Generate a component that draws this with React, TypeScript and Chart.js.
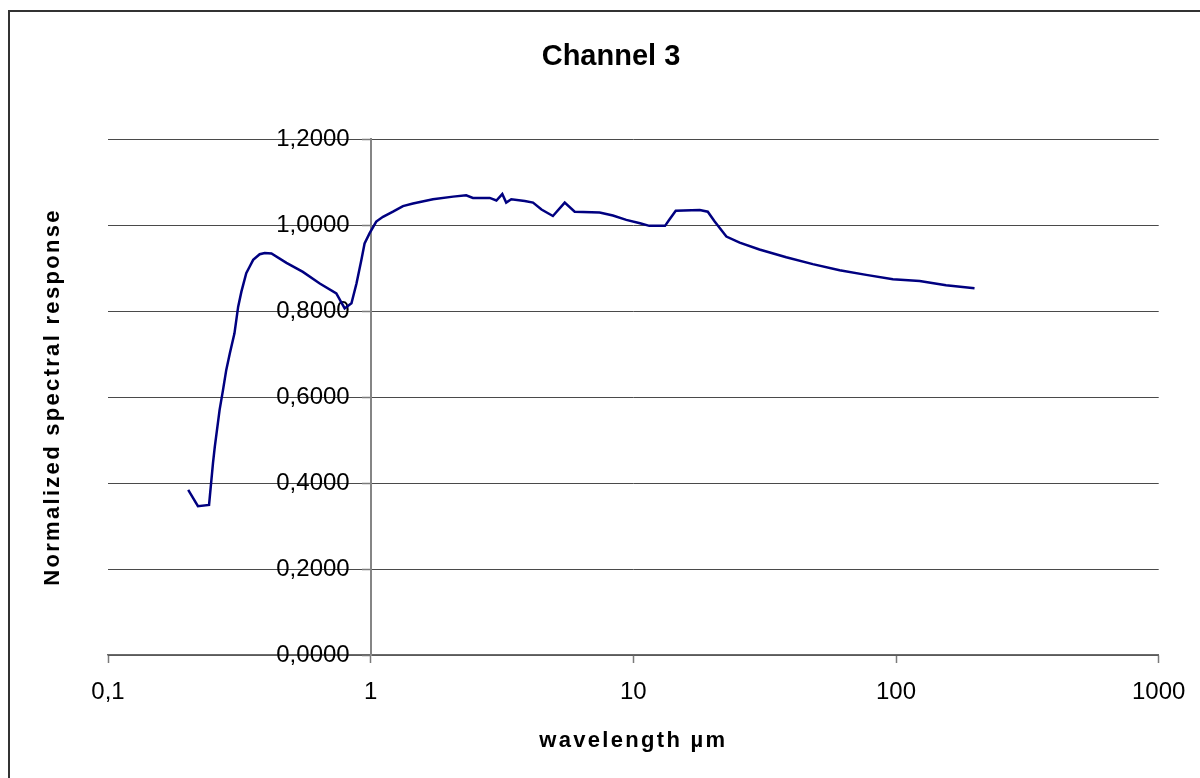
import React, { useEffect, useRef } from "react";
import { Chart, registerables } from "chart.js";

Chart.register(...registerables);

const chartTitle = "Channel 3";
const xTitle = "wavelength µm";
const yTitle = "Normalized spectral response";

const wavelength = [
  0.202, 0.22, 0.2425, 0.251, 0.255, 0.266, 0.274, 0.282, 0.291, 0.303, 0.313,
  0.322, 0.336, 0.346, 0.357, 0.378, 0.395, 0.419, 0.478, 0.552, 0.64, 0.74,
  0.796, 0.845, 0.883, 0.922, 0.948, 0.991, 1.05, 1.114, 1.216, 1.327, 1.449,
  1.726, 2.06, 2.31, 2.45, 2.84, 3.01, 3.17, 3.28, 3.43, 3.86, 4.15, 4.47,
  4.94, 5.48, 5.98, 7.44, 8.36, 9.4, 10.6, 11.5, 13.2, 13.7, 14.5, 17.9, 19.2,
  20.4, 22.6, 25.4, 30.2, 38.2, 48.2, 61.0, 77.0, 97.3, 123, 155, 199,
];

const response = [
  0.384, 0.346, 0.349, 0.446, 0.484, 0.57, 0.616, 0.663, 0.702, 0.748, 0.81,
  0.845, 0.888, 0.903, 0.919, 0.932, 0.935, 0.934, 0.912, 0.891, 0.864, 0.841,
  0.806, 0.818, 0.864, 0.919, 0.957, 0.981, 1.008, 1.019, 1.031, 1.044, 1.05,
  1.06, 1.066, 1.069, 1.063, 1.063, 1.057, 1.072, 1.052, 1.06, 1.056, 1.052,
  1.036, 1.021, 1.052, 1.031, 1.029, 1.022, 1.012, 1.004, 0.998, 0.998, 1.012,
  1.033, 1.035, 1.031, 1.008, 0.973, 0.959, 0.943, 0.925, 0.909, 0.895, 0.884,
  0.874, 0.87, 0.86, 0.853,
];

const xTicks = [0.1, 1, 10, 100, 1000];
const xTickLabels = ["0,1", "1", "10", "100", "1000"];
const yTicks = [0, 0.2, 0.4, 0.6, 0.8, 1.0, 1.2];
const yTickLabels = ["0,0000", "0,2000", "0,4000", "0,6000", "0,8000", "1,0000", "1,2000"];

const FONT = "'Liberation Sans', Arial, Helvetica, sans-serif";

function patchTitleSpacing(scale: any, spacing: string) {
  if (scale.__lsPatched) return;
  const orig = scale.drawTitle.bind(scale);
  scale.drawTitle = () => {
    const c = scale.ctx;
    c.save();
    try {
      c.letterSpacing = spacing;
    } catch (e) {}
    orig();
    c.restore();
  };
  scale.__lsPatched = true;
}

function patchLabelShift(scale: any, dx: number) {
  if (scale.__shiftPatched) return;
  const orig = scale._computeLabelItems.bind(scale);
  scale._computeLabelItems = (ca: any) => {
    const items = orig(ca);
    items.forEach((it: any) => {
      const t = it.options && it.options.translation;
      if (t) it.options.translation = [t[0] + dx, t[1]];
    });
    return items;
  };
  scale.__shiftPatched = true;
}

export default function App() {
  const ref = useRef<HTMLCanvasElement | null>(null);

  useEffect(() => {
    document.body.style.overflow = "hidden";
    const canvas = ref.current;
    if (!canvas) return;
    const points = wavelength.map((w, i) => ({ x: w, y: response[i] }));
    const chart = new Chart(canvas, {
      type: "line",
      data: {
        datasets: [
          {
            data: points,
            borderColor: "#000080",
            borderWidth: 2.5,
            pointRadius: 0,
            fill: false,
            tension: 0,
          },
        ],
      },
      options: {
        responsive: false,
        animation: false,
        devicePixelRatio: 1,
        font: { family: FONT },
        layout: { padding: { left: 22, right: 0, top: 0, bottom: 24.3 } },
        plugins: {
          legend: { display: false },
          tooltip: { enabled: false },
          title: {
            display: true,
            text: chartTitle,
            color: "#000",
            font: { family: FONT, size: 29, weight: "bold", lineHeight: 1.2 },
            padding: { top: 39.6, bottom: 64.6 },
          },
        },
        scales: {
          x: {
            type: "logarithmic",
            position: "bottom",
            min: 0.1,
            max: 1000,
            afterBuildTicks: (scale: any) => {
              scale.ticks = xTicks.map((v) => ({ value: v }));
            },
            afterFit: (scale: any) => patchTitleSpacing(scale, "2.3px"),
            ticks: {
              color: "#000",
              font: { family: FONT, size: 24, lineHeight: 1.2 },
              padding: 14.6,
              maxRotation: 0,
              autoSkip: false,
              callback: (value: any) => {
                const i = xTicks.findIndex((t) => Math.abs(t - Number(value)) < 1e-9 * Math.max(1, t));
                return i >= 0 ? xTickLabels[i] : "";
              },
            },
            grid: {
              display: true,
              drawOnChartArea: false,
              drawTicks: true,
              tickLength: 8,
              tickColor: "#7a7a7a",
              tickWidth: 1.5,
            },
            border: { display: true, color: "#6a6a6a", width: 1.5 },
            title: {
              display: true,
              text: xTitle,
              color: "#000",
              font: { family: FONT, size: 22, weight: "bold", lineHeight: 1.2 },
              padding: { top: 6.3, bottom: 0 },
            },
          },
          y: {
            type: "linear",
            axis: "y",
            position: { x: 1 },
            min: 0,
            max: 1.2,
            afterBuildTicks: (scale: any) => {
              scale.ticks = yTicks.map((v) => ({ value: v }));
            },
            afterFit: (scale: any) => patchLabelShift(scale, -21),
            ticks: {
              color: "#000",
              font: { family: FONT, size: 24, lineHeight: 1.2 },
              padding: 13,
              callback: (value: any) => {
                const i = yTicks.findIndex((t) => Math.abs(t - Number(value)) < 1e-9);
                return i >= 0 ? yTickLabels[i] : "";
              },
            },
            grid: {
              display: true,
              drawOnChartArea: true,
              drawTicks: true,
              tickLength: 8,
              color: "#4a4a4a",
              lineWidth: 1,
              tickColor: "#7a7a7a",
              tickWidth: 1.5,
            },
            border: { display: true, color: "#858585", width: 2 },
          } as any,
          yTitleAxis: {
            type: "linear",
            axis: "y",
            position: "left",
            display: true,
            afterFit: (scale: any) => patchTitleSpacing(scale, "2.3px"),
            ticks: { display: false },
            grid: { display: false, drawTicks: false, tickLength: 0 },
            border: { display: false },
            title: {
              display: true,
              text: yTitle,
              color: "#000",
              font: { family: FONT, size: 22, weight: "bold", lineHeight: 1.2 },
              padding: { top: 17.8, bottom: 41.8 },
            },
          } as any,
          rightSpace: {
            type: "linear",
            axis: "y",
            position: "right",
            display: true,
            ticks: { display: false },
            grid: { display: false, drawTicks: false, tickLength: 0 },
            border: { display: false },
            title: {
              display: true,
              text: "",
              font: { family: FONT, size: 10, lineHeight: 1 },
              padding: { top: 31, bottom: 0 },
            },
          } as any,
        },
      } as any,
    });
    return () => {
      chart.destroy();
    };
  }, []);

  return (
    <div>
      <canvas
        ref={ref}
        width={1200}
        height={778}
        style={{ position: "fixed", left: 0, top: 0, width: 1200, height: 778, display: "block", background: "#fff" }}
      />
      <div
        style={{
          position: "fixed",
          left: 8,
          top: 10,
          width: 1300,
          height: 900,
          border: "2px solid #333",
          boxSizing: "border-box",
          pointerEvents: "none",
        }}
      />
    </div>
  );
}
